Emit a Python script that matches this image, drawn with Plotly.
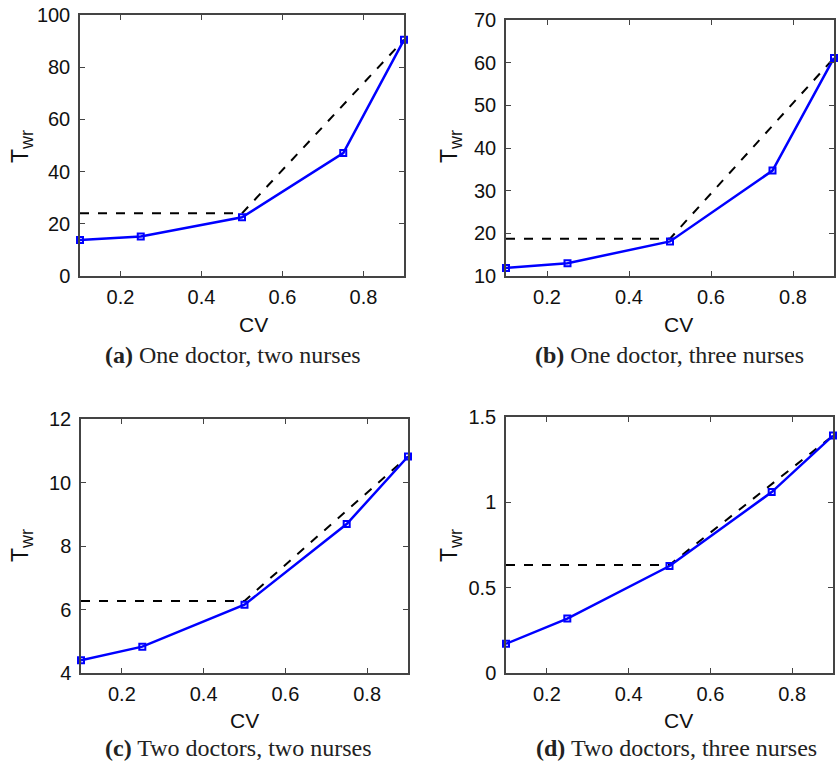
import plotly.graph_objects as go

cv = [0.1, 0.25, 0.5, 0.75, 0.9]

twr_a = [13.8, 15.1, 22.5, 47.1, 90.5]
twr_b = [11.9, 13.0, 18.1, 34.7, 61.1]
twr_c = [4.40, 4.83, 6.15, 8.69, 10.82]
twr_d = [0.171, 0.319, 0.627, 1.060, 1.391]

bound_x = [0.1, 0.5, 0.9]
bound_a = [24.0, 24.0, 90.5]
bound_b = [18.75, 18.75, 61.1]
bound_c = [6.27, 6.27, 10.82]
bound_d = [0.633, 0.633, 1.391]

captions = [
    "<b>(a)</b> One doctor, two nurses",
    "<b>(b)</b> One doctor, three nurses",
    "<b>(c)</b> Two doctors, two nurses",
    "<b>(d)</b> Two doctors, three nurses",
]
x_title = "CV"
y_title = "T<sub><span style='font-size:18px'>wr</span></sub>"

y_ranges = [[0, 100], [10, 70], [4, 12], [0, 1.5]]
y_dticks = [20, 10, 2, 0.5]
x_ticks = [0.2, 0.4, 0.6, 0.8]

W, H = 838, 762
# plot areas in page pixels: (left, right, top, bottom)
areas = [
    (80, 404, 15, 276),
    (506, 834, 20, 276),
    (81, 408, 419, 673),
    (506, 833, 417, 673),
]
caption_pos = [(233, 355), (669, 355), (238, 748), (676, 748)]
xtitle_pos = [(253, 324), (678, 324), (244, 720), (678, 720)]
ytitle_pos = [(22, 147), (451, 147), (22, 546), (451, 546)]


def px(x):
    return x / W


def py(y):
    return 1 - y / H


fig = go.Figure()
series = [twr_a, twr_b, twr_c, twr_d]
bounds = [bound_a, bound_b, bound_c, bound_d]

axis_color = "#444444"
sans = "Liberation Sans, Arial, sans-serif"
tick_font = dict(family=sans, size=20, color="#111111")

for i in range(4):
    xa = "x" if i == 0 else f"x{i+1}"
    ya = "y" if i == 0 else f"y{i+1}"
    fig.add_trace(go.Scatter(
        x=bound_x, y=bounds[i], mode="lines",
        line=dict(color="black", width=2, dash="dash"),
        xaxis=xa, yaxis=ya, showlegend=False, cliponaxis=False,
    ))
    fig.add_trace(go.Scatter(
        x=cv, y=series[i], mode="lines+markers",
        line=dict(color="#0000ff", width=2.5),
        marker=dict(symbol="square-open", size=6, color="#0000ff", line=dict(width=2)),
        xaxis=xa, yaxis=ya, showlegend=False, cliponaxis=False,
    ))
    l, r, t, b = areas[i]
    xkey = "xaxis" if i == 0 else f"xaxis{i+1}"
    ykey = "yaxis" if i == 0 else f"yaxis{i+1}"
    fig.update_layout(**{
        xkey: dict(
            domain=[px(l), px(r)], anchor=ya, range=[0.1, 0.9],
            tickvals=x_ticks, ticktext=[f"{v:g}" for v in x_ticks],
            ticks="inside", ticklen=5, tickcolor=axis_color,
            showline=True, linecolor=axis_color, linewidth=1.5, mirror="ticks",
            showgrid=False, zeroline=False, tickfont=tick_font,
            automargin=False, ticklabelstandoff=2,
        ),
        ykey: dict(
            domain=[py(b), py(t)], anchor=xa, range=y_ranges[i],
            dtick=y_dticks[i], tick0=0,
            ticks="inside", ticklen=5, tickcolor=axis_color,
            showline=True, linecolor=axis_color, linewidth=1.5, mirror="ticks",
            showgrid=False, zeroline=False, tickfont=tick_font,
            automargin=False, ticklabelstandoff=4,
        ),
    })
    cx, cy = caption_pos[i]
    fig.add_annotation(
        x=px(cx), y=py(cy), xref="paper", yref="paper",
        text=captions[i], showarrow=False,
        font=dict(family="Liberation Serif, Times New Roman, serif", size=24, color="#222222"),
        xanchor="center", yanchor="middle",
    )
    tx, ty = xtitle_pos[i]
    fig.add_annotation(
        x=px(tx), y=py(ty), xref="paper", yref="paper",
        text=x_title, showarrow=False,
        font=dict(family=sans, size=21, color="#111111"),
        xanchor="center", yanchor="middle",
    )
    yx, yy = ytitle_pos[i]
    fig.add_annotation(
        x=px(yx), y=py(yy), xref="paper", yref="paper",
        text=y_title, showarrow=False, textangle=-90,
        font=dict(family=sans, size=23, color="#111111"),
        xanchor="center", yanchor="middle",
    )

fig.update_layout(
    width=W, height=H,
    margin=dict(l=0, r=0, t=0, b=0),
    paper_bgcolor="white", plot_bgcolor="white",
)

fig.write_html(
    "out.html",
    config={"displayModeBar": False},
    post_script=(
        "document.documentElement.style.overflow='hidden';"
        "document.body.style.margin='0';"
        "document.body.style.overflow='hidden';"
    ),
)
